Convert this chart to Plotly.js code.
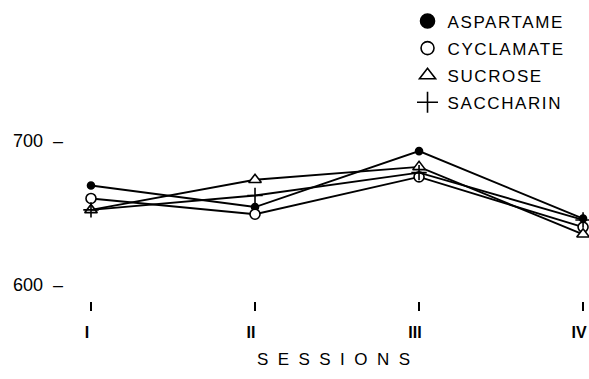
<!DOCTYPE html>
<html>
<head>
<meta charset="utf-8">
<script src="https://cdn.plot.ly/plotly-3.0.1.min.js"></script>
<style>
html,body{margin:0;padding:0;background:#fff;}
#chart{width:589px;height:379px;}
#chart .legendtext{letter-spacing:1.6px;}
</style>
</head>
<body>
<div id="chart"></div>
<script>
const sessions = [0, 1, 2, 3];
const sessionLabels = ["I", "II", "III", "IV"];
const aspartame = [669, 654, 693, 646];
const cyclamate = [660, 649, 675, 640];
const sucrose = [652, 673, 682, 635];
const saccharin = [652, 662, 678, 645];
const yTicks = [600, 700];
const yTickText = ["600\u00a0 \u2013", "700\u00a0 \u2013"];

const font = "Liberation Sans, Arial, sans-serif";
const series = [
  {name: "ASPARTAME", y: aspartame, sym: "circle", size: 7, legSize: 14, fill: "black"},
  {name: "CYCLAMATE", y: cyclamate, sym: "circle", size: 10, legSize: 13, fill: "white"},
  {name: "SUCROSE", y: sucrose, sym: "triangle-up", size: 11, legSize: 14, fill: "white"},
  {name: "SACCHARIN", y: saccharin, sym: "cross-thin-open", size: 11, legSize: 15, fill: "black"}
];
const traces = [];
series.forEach((s, i) => {
  traces.push({
    x: sessions, y: s.y, mode: "lines+markers", showlegend: false,
    line: {color: "black", width: 1.9},
    marker: {symbol: s.sym, size: s.size, color: s.fill, line: {color: "black", width: 1.6}},
    cliponaxis: false
  });
});
series.forEach((s, i) => {
  traces.push({
    x: [null], y: [null], mode: "markers", name: s.name + "\u00a0\u00a0\u00a0", legendgroup: "g" + i,
    marker: {symbol: s.sym, size: s.legSize, color: s.fill, line: {color: "black", width: 1.6}}
  });
});

const layout = {
  width: 589, height: 379,
  margin: {l: 80, r: 2, t: 130, b: 78},
  paper_bgcolor: "white", plot_bgcolor: "white",
  font: {family: font, color: "black"},
  showlegend: true,
  legend: {
    x: 0.646, y: 1.74, xanchor: "left", yanchor: "top",
    font: {size: 17, family: font, color: "black"},
    traceorder: "grouped", tracegroupgap: 2,
    bgcolor: "rgba(0,0,0,0)"
  },
  xaxis: {
    range: [-0.067, 3.024],
    tickmode: "array", tickvals: sessions, ticktext: sessionLabels,
    showgrid: false, zeroline: false, showline: false,
    ticks: "outside", ticklen: 9, tickwidth: 1.5, tickcolor: "black",
    ticklabelstandoff: 8, ticklabelshift: -4, ticklabeloverflow: "allow",
    tickfont: {size: 16, family: font, weight: "bold"},
    title: {text: "S\u00a0 E\u00a0 S\u00a0 S\u00a0 I\u00a0 O\u00a0 N\u00a0 S", font: {size: 17, family: font}, standoff: 12}
  },
  yaxis: {
    range: [588.5, 707.7],
    tickmode: "array", tickvals: yTicks, ticktext: yTickText,
    showgrid: false, zeroline: false, showline: false, ticks: "",
    ticklabelstandoff: 16,
    tickfont: {size: 18, family: font}
  }
};
Plotly.newPlot("chart", traces, layout, {staticPlot: true, displayModeBar: false});
</script>
</body>
</html>
